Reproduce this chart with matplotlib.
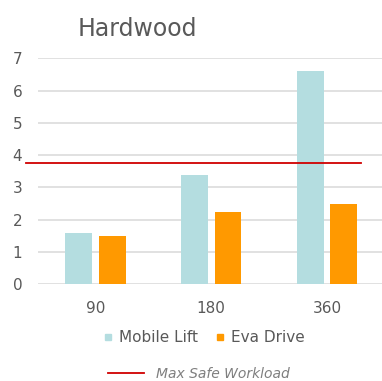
import numpy as np
import matplotlib.pyplot as plt
from matplotlib.lines import Line2D

categories = ['90', '180', '360']
mobile_lift = [1.6, 3.4, 6.6]
eva_drive = [1.5, 2.25, 2.5]
max_safe = 3.75
yticks = [0, 1, 2, 3, 4, 5, 6, 7]

teal = '#B4DDE0'
orange = '#FF9900'
red = '#D00000'
grey = '#595959'

plt.rcParams['font.family'] = ['DejaVu Sans']

fig = plt.figure(figsize=(3.82, 3.81), dpi=100)
ax = fig.add_axes([0.0984, 0.2538, 0.909, 0.593])

x = np.arange(len(categories))
w = 0.233
off = 0.145
ax.bar(x - off, mobile_lift, w, color=teal, zorder=2)
ax.bar(x + off, eva_drive, w, color=orange, zorder=2)

ax.set_xlim(-0.5, 2.5)
ax.set_ylim(0, 7)
ax.set_yticks(yticks)
ax.set_xticks(x)
ax.set_xticklabels(categories)
ax.grid(axis='y', color='#D9D9D9', lw=1.1, zorder=0)
for s in ax.spines.values():
    s.set_visible(False)
ax.tick_params(axis='both', length=0, colors=grey, labelsize=11)
ax.tick_params(axis='y', pad=11)
ax.tick_params(axis='x', pad=12)

# max safe workload line, drawn across the chart area
ax.plot([-0.032, 0.93], [max_safe, max_safe], color=red, lw=1.3,
        transform=ax.get_yaxis_transform(), clip_on=False, zorder=3)

fig.text(0.359, 0.905, 'Hardwood', fontsize=17, color=grey, ha='center', va='baseline')

h1 = [Line2D([], [], marker='s', ls='', color=teal, markersize=5),
      Line2D([], [], marker='s', ls='', color=orange, markersize=5)]
leg1 = fig.legend(h1, ['Mobile Lift', 'Eva Drive'], loc='center',
                  bbox_to_anchor=(0.535, 0.113), ncol=2, frameon=False,
                  fontsize=11, handlelength=0.5, handletextpad=0.45,
                  columnspacing=1.2, labelcolor=grey)

h2 = [Line2D([], [], color=red, lw=1.3)]
leg2 = fig.legend(h2, ['Max Safe Workload'], loc='center',
                  bbox_to_anchor=(0.521, 0.018), frameon=False,
                  fontsize=10, handlelength=2.6, handletextpad=0.9,
                  labelcolor='#7F7F7F', prop={'style': 'italic', 'size': 10})

fig.savefig('out.png', dpi=100)
